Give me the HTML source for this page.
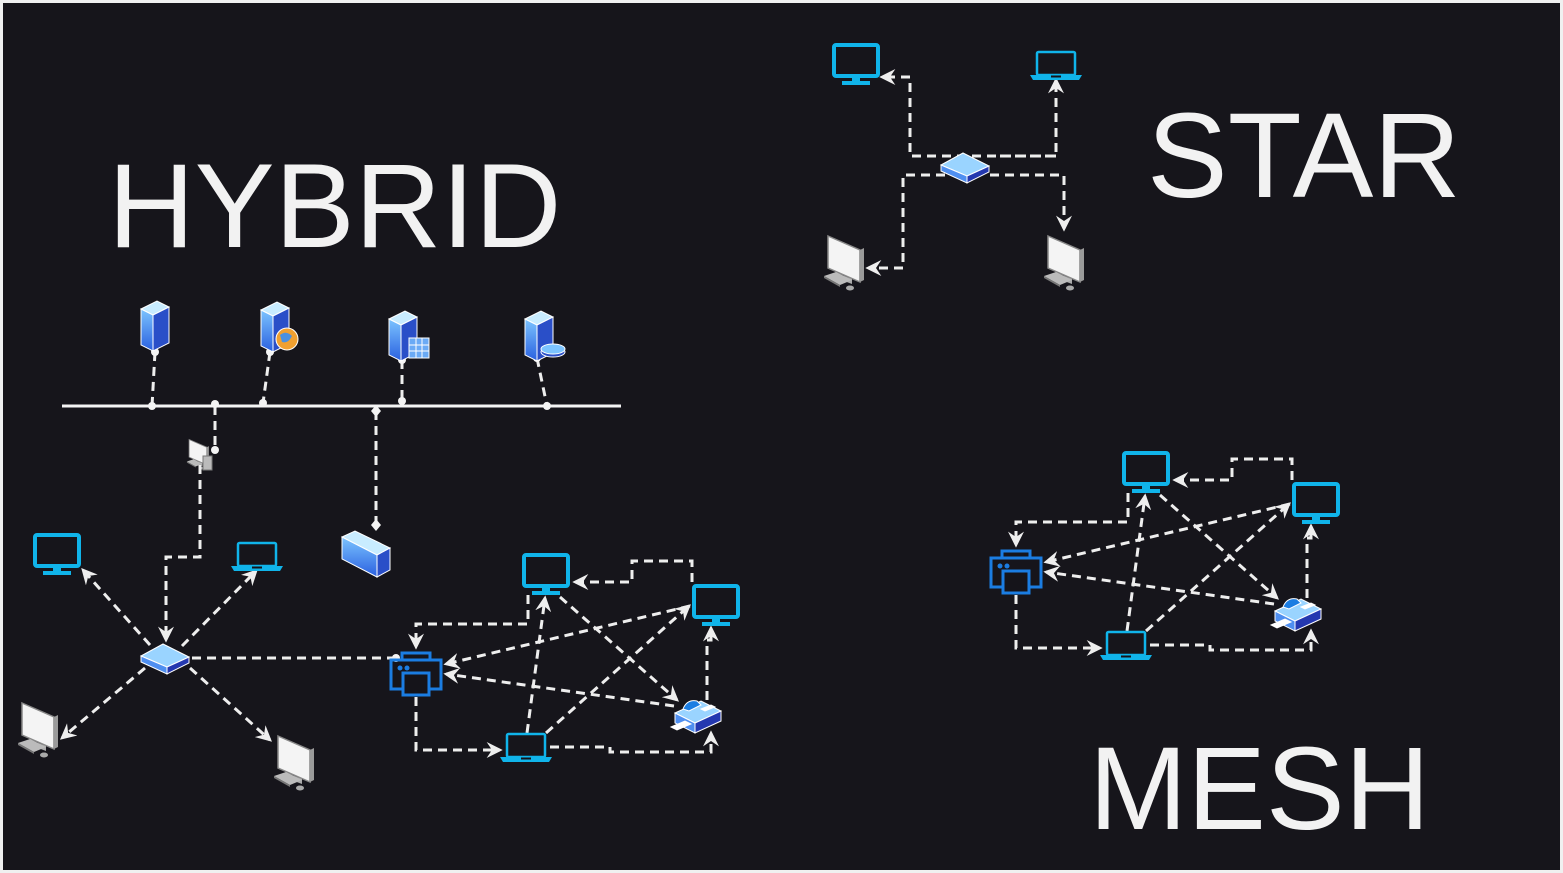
<!DOCTYPE html>
<html><head><meta charset="utf-8"><style>
html,body{margin:0;padding:0;background:#f0f0f0;}
svg{display:block}
.d{fill:none;stroke:#eeeeee;stroke-width:3;stroke-dasharray:9 6;}
.t{font-family:"Liberation Sans",sans-serif;fill:#f2f2f2;}
</style></head><body>
<svg width="1563" height="873" viewBox="0 0 1563 873" xmlns="http://www.w3.org/2000/svg">
<defs>
<marker id="a" viewBox="0 0 12 12" refX="10" refY="6" markerWidth="16" markerHeight="16" markerUnits="userSpaceOnUse" orient="auto">
<path d="M0,0 L12,6 L0,12 L4,6 z" fill="#eeeeee"/></marker>
<linearGradient id="sv" x1="0" y1="0" x2="0" y2="1"><stop offset="0" stop-color="#7cc4ff"/><stop offset="1" stop-color="#2a60e0"/></linearGradient>
<g id="mon"><rect x="-22" y="-17" width="44" height="31" rx="2" fill="none" stroke="#10b4ea" stroke-width="4"/><rect x="-4" y="15" width="8" height="5" fill="#10b4ea"/><rect x="-14" y="19" width="28" height="4" fill="#10b4ea"/></g>
<g id="lap"><rect x="-19" y="-12" width="38" height="23" rx="1.5" fill="none" stroke="#10b4ea" stroke-width="2.5"/><path d="M-26,11 L26,11 L23,16 L-23,16 z" fill="#10b4ea"/><rect x="-5" y="11.5" width="10" height="2" fill="#15141a"/></g>
<g id="prn" fill="none" stroke="#1b7de2" stroke-width="3"><rect x="-14" y="-20" width="28" height="7"/><rect x="-25" y="-13" width="50" height="29"/><rect x="-13" y="0" width="26" height="22" fill="#15141a"/><circle cx="-16" cy="-5" r="2.5" fill="#1b7de2" stroke="none"/><circle cx="-9" cy="-5" r="2.5" fill="#1b7de2" stroke="none"/></g>
<g id="sw" stroke="#fff" stroke-width="1"><path d="M-24,-2 L-2,-14 L24,-1 L2,9 z" fill="#9ad4ff"/><path d="M-24,-2 L2,9 L2,16 L-24,4 z" fill="#4f8ff0"/><path d="M2,9 L24,-1 L24,5 L2,16 z" fill="#2438b0"/></g>
<g id="pc"><path d="M-18,-30 L14,-16 L14,16 L-18,2 z" fill="#f4f4f4" stroke="#888" stroke-width="1.5"/><path d="M14,-16 L18,-18 L18,14 L14,16z" fill="#9a9a9a"/><path d="M-2,10 L6,13 L6,18 L-2,15z" fill="#aaa"/><path d="M-22,10 L-10,6 L6,14 L-6,19 z" fill="#bbb"/><path d="M-22,10 L-6,19 L-6,21 L-22,12z" fill="#777"/><ellipse cx="4" cy="22" rx="4" ry="2.5" fill="#aaa"/></g>
<g id="srv" stroke="#fff" stroke-width="1"><path d="M-14,-18 L2,-26 L14,-20 L-2,-12 z" fill="#c8ecff"/><path d="M-14,-18 L-2,-12 L-2,24 L-14,18 z" fill="url(#sv)"/><path d="M-2,-12 L14,-20 L14,16 L-2,24 z" fill="#2a4fc8"/></g>
<g id="fax" stroke="#fff" stroke-width="1"><path d="M-22,-2 L4,-14 L24,-4 L-2,8 z" fill="#9ad4ff"/><path d="M-22,-2 L-2,8 L-2,18 L-22,8z" fill="#4f8ff0"/><path d="M-2,8 L24,-4 L24,6 L-2,18z" fill="#2438b0"/><path d="M-14,-6 Q-10,-16 0,-14 L4,-10 L-8,-4z" fill="#1b7de2"/><path d="M4,-6 L14,-10 L18,-8 L8,-4z" fill="#fff"/><path d="M-26,12 L-12,6 L-6,9 L-20,15z" fill="#fff"/></g>
<g id="mesh">
<polyline class="d" points="528,595 528,624 416,624 416,647" marker-end="url(#a)"/>
<polyline class="d" points="692,582 692,561 632,561 632,582 575,582" marker-end="url(#a)"/>
<polyline class="d" points="416,697 416,750 500,750" marker-end="url(#a)"/>
<polyline class="d" points="550,747 610,747 610,752 711,752 711,733" marker-end="url(#a)"/>
<polyline class="d" points="707,700 707,640 711,640 711,628" marker-end="url(#a)"/>
<line class="d" x1="527" y1="733" x2="545" y2="598" marker-end="url(#a)"/>
<line class="d" x1="546" y1="733" x2="689" y2="606" marker-end="url(#a)"/>
<line class="d" x1="560" y1="597" x2="677" y2="700" marker-end="url(#a)"/>
<line class="d" x1="674" y1="706" x2="446" y2="674" marker-end="url(#a)"/>
<line class="d" x1="690" y1="606" x2="446" y2="664" marker-end="url(#a)"/>
<use href="#mon" x="546" y="572"/>
<use href="#mon" x="716" y="603"/>
<use href="#prn" x="416" y="673"/>
<use href="#lap" x="526" y="746"/>
<use href="#fax" x="697" y="715"/>
</g>
</defs>
<rect x="3" y="3" width="1557" height="867" fill="#16151b"/>

<text class="t" x="108" y="247" font-size="120">HYBRID</text>
<text class="t" x="1147" y="197" font-size="121">STAR</text>
<text class="t" x="1089" y="829" font-size="118">MESH</text>

<!-- hybrid bus -->
<line x1="62" y1="406" x2="621" y2="406" stroke="#f4f4f4" stroke-width="3"/>
<line class="d" x1="155" y1="352" x2="152" y2="406"/>
<line class="d" x1="270" y1="352" x2="263" y2="403"/>
<line class="d" x1="402" y1="360" x2="402" y2="401"/>
<line class="d" x1="537" y1="358" x2="547" y2="406"/>
<line class="d" x1="215" y1="406" x2="215" y2="450"/>
<line class="d" x1="376" y1="411" x2="376" y2="525"/>
<g fill="#f4f4f4"><circle cx="155" cy="352" r="4"/><circle cx="270" cy="352" r="4"/><circle cx="402" cy="360" r="4"/><circle cx="537" cy="358" r="4"/>
<circle cx="152" cy="406" r="4"/><circle cx="215" cy="404" r="4"/><circle cx="263" cy="403" r="4"/><circle cx="402" cy="401" r="4"/><circle cx="547" cy="406" r="4"/><circle cx="215" cy="450" r="4"/>
<path d="M376,405 L381,411 L376,417 L371,411z"/><path d="M376,519 L381,525 L376,531 L371,525z"/><circle cx="396" cy="658" r="4"/></g>
<use href="#srv" x="155" y="327"/>
<use href="#srv" x="275" y="328"/>
<circle cx="287" cy="339" r="11" fill="#f0a030" stroke="#fff" stroke-width="1"/><path d="M280,335 Q286,330 292,336 Q288,344 282,342z" fill="#4a90e0"/>
<use href="#srv" x="403" y="337"/>
<rect x="409" y="338" width="20" height="20" fill="#6aaaf5" stroke="#fff" stroke-width="1"/><path d="M409,345h20M409,351h20M416,338v20M422,338v20" stroke="#fff" stroke-width="1"/>
<use href="#srv" x="539" y="337"/>
<ellipse cx="553" cy="352" rx="12" ry="5" fill="#2a4fc8" stroke="#fff"/><ellipse cx="553" cy="349" rx="12" ry="5" fill="#7cc4ff" stroke="#fff"/>
<!-- small pc -->
<g transform="translate(199,456) scale(0.55)"><use href="#pc"/></g>
<rect x="203" y="456" width="9" height="14" fill="#bbb" stroke="#777"/>
<!-- storage -->
<g stroke="#fff" stroke-width="1"><path d="M342,537 L355,531 L390,548 L377,555z" fill="#c8ecff"/><path d="M342,537 L377,555 L377,577 L342,559z" fill="url(#sv)"/><path d="M377,555 L390,548 L390,570 L377,577z" fill="#2a4fc8"/></g>
<!-- hybrid star -->
<polyline class="d" points="200,465 200,557 166,557 166,640" marker-end="url(#a)"/>
<line class="d" x1="150" y1="645" x2="83" y2="570" marker-end="url(#a)"/>
<line class="d" x1="182" y1="646" x2="256" y2="571" marker-end="url(#a)"/>
<line class="d" x1="145" y1="668" x2="62" y2="738" marker-end="url(#a)"/>
<line class="d" x1="190" y1="668" x2="270" y2="740" marker-end="url(#a)"/>
<line class="d" x1="192" y1="658" x2="396" y2="658"/>
<use href="#mon" x="57" y="552"/>
<use href="#lap" x="257" y="555"/>
<use href="#pc" x="40" y="733"/>
<use href="#pc" x="296" y="766"/>
<use href="#sw" x="165" y="658"/>
<use href="#mesh"/>
<use href="#mesh" transform="translate(600,-102)"/>

<!-- star -->
<polyline class="d" points="1056,156 910,156 910,77 882,77" marker-end="url(#a)"/>
<polyline class="d" points="1000,156 1056,156 1056,80" marker-end="url(#a)"/>
<polyline class="d" points="990,175 1064,175 1064,229" marker-end="url(#a)"/>
<polyline class="d" points="945,175 903,175 903,268 868,268" marker-end="url(#a)"/>
<use href="#mon" x="856" y="62"/>
<use href="#lap" x="1056" y="64"/>
<use href="#sw" x="965" y="167"/>
<use href="#pc" x="846" y="266"/>
<use href="#pc" x="1066" y="266"/>
</svg>
</body></html>
